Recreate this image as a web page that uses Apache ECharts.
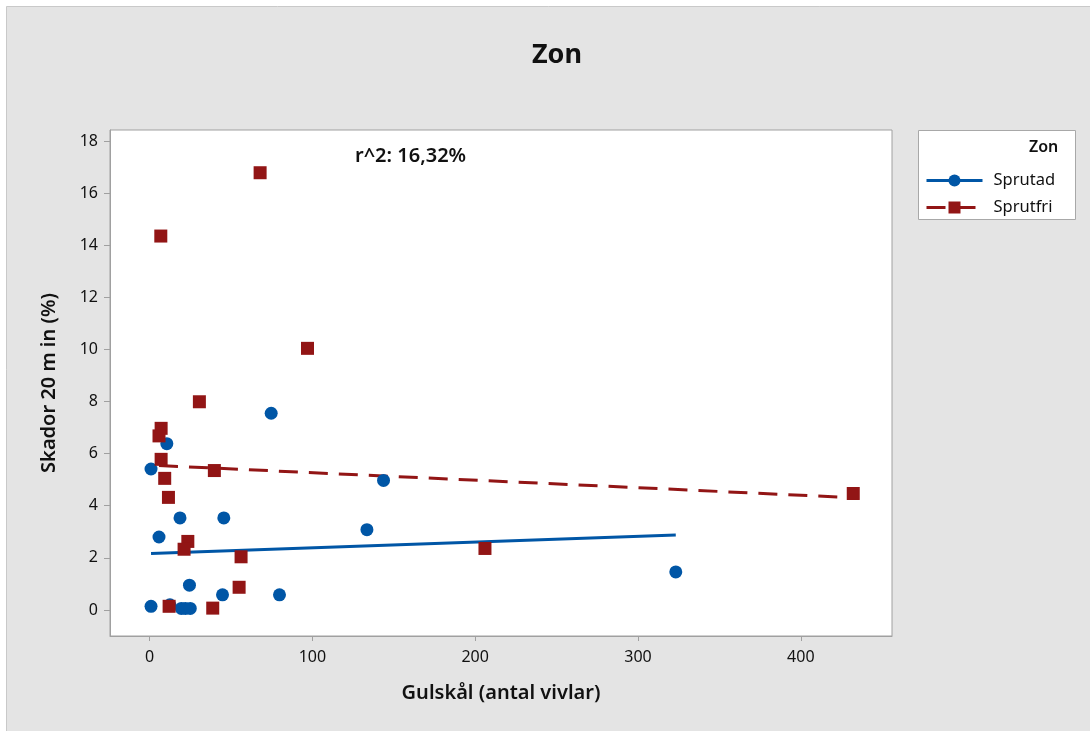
<!DOCTYPE html>
<html>
<head>
<meta charset="utf-8">
<script src="https://cdn.jsdelivr.net/npm/echarts@6/dist/echarts.min.js"></script>
<style>
  html, body { margin: 0; padding: 0; background: #ffffff; }
  #chart { width: 1090px; height: 731px; }
</style>
</head>
<body>
<div id="chart"></div>
<script>
// ---- Data ----
const seriesNames = ['Sprutad', 'Sprutfri'];

// Sprutad (blue circles)
const sprutadX = [74.7, 10.6, 0.9, 143.7, 18.7, 45.6, 5.8, 133.5, 24.5, 44.8, 79.8, 0.9, 12.5, 19.5, 22.0, 25.0, 323.2];
const sprutadY = [7.55, 6.38, 5.41, 4.97, 3.53, 3.53, 2.80, 3.08, 0.95, 0.58, 0.58, 0.14, 0.20, 0.06, 0.06, 0.06, 1.46];

// Sprutfri (red squares)
const sprutfriX = [6.9, 67.9, 97.0, 30.6, 7.1, 5.8, 7.1, 39.8, 9.3, 11.6, 23.5, 21.2, 56.2, 55.0, 12.0, 38.8, 206.0, 432.2];
const sprutfriY = [14.35, 16.78, 10.04, 7.99, 6.97, 6.68, 5.78, 5.35, 5.05, 4.32, 2.63, 2.33, 2.04, 0.87, 0.14, 0.07, 2.36, 4.47];

// Fitted regression lines (endpoints)
const sprutadFitX = [0.9, 323.2];
const sprutadFitY = [2.17, 2.88];
const sprutfriFitX = [5.8, 432.2];
const sprutfriFitY = [5.54, 4.31];

const xTicks = [0, 100, 200, 300, 400];
const yTicks = [0, 2, 4, 6, 8, 10, 12, 14, 16, 18];

const titleText = 'Zon';
const xAxisName = 'Gulskål (antal vivlar)';
const yAxisName = 'Skador 20 m in (%)';
const r2Text = 'r^2: 16,32%';

// ---- Build ----
const zip = (xs, ys) => xs.map((x, i) => [x, ys[i]]);
const BLUE = '#0056a6';
const RED = '#921515';
const FONT = '"Noto Sans", "Open Sans", sans-serif';
const TXT = '#111111';

const chart = echarts.init(document.getElementById('chart'), null, { renderer: 'canvas' });

chart.setOption({
  backgroundColor: '#ffffff',
  animation: false,
  textStyle: { fontFamily: FONT },
  graphic: [
    {
      type: 'rect', z: -10, silent: true,
      shape: { x: 6.5, y: 6.5, width: 1090, height: 730 },
      style: { fill: '#e4e4e4', stroke: '#c9c9c9', lineWidth: 1 }
    },
    {
      type: 'rect', z: -5, silent: true,
      shape: { x: 918.5, y: 130.5, width: 157, height: 89 },
      style: { fill: '#ffffff', stroke: '#a8a8a8', lineWidth: 1 }
    },
    {
      type: 'text', z: 10, silent: true,
      left: 1029, top: 139,
      style: { text: 'Zon', font: '600 16px ' + FONT, fill: TXT }
    },
    {
      type: 'text', z: 10, silent: true,
      left: 355, top: 146,
      style: { text: r2Text, font: '600 20px ' + FONT, fill: TXT }
    }
  ],
  title: {
    text: titleText,
    left: 552, textAlign: 'center',
    top: 37,
    textStyle: { fontFamily: FONT, fontSize: 27, fontWeight: 'bold', color: TXT }
  },
  legend: {
    orient: 'vertical',
    left: 920, top: 167,
    itemWidth: 56, itemHeight: 15, itemGap: 10,
    data: seriesNames,
    lineStyle: { width: 3 },
    textStyle: { fontFamily: FONT, fontSize: 16.5, color: TXT, padding: [0, 0, 0, 6] }
  },
  grid: { left: 110, right: 198, top: 130, bottom: 95, containLabel: false,
          show: true, backgroundColor: '#ffffff', borderColor: '#a0a0a0', borderWidth: 1 },
  xAxis: {
    type: 'value',
    min: -24.3, max: 456,
    name: xAxisName,
    nameLocation: 'middle', nameGap: 47,
    nameTextStyle: { fontFamily: FONT, fontSize: 20, fontWeight: 600, color: TXT },
    axisLine: { show: true, onZero: false, lineStyle: { color: '#a0a0a0', width: 1 } },
    axisTick: { show: true, customValues: xTicks, length: 5, lineStyle: { color: '#a0a0a0' } },
    axisLabel: { customValues: xTicks, fontFamily: FONT, fontSize: 16, color: TXT, margin: 13 },
    splitLine: { show: false }
  },
  yAxis: {
    type: 'value',
    min: -1, max: 18.42,
    name: yAxisName,
    nameLocation: 'middle', nameGap: 51, nameRotate: 90,
    nameTextStyle: { fontFamily: FONT, fontSize: 20, fontWeight: 600, color: TXT },
    axisLine: { show: true, onZero: false, lineStyle: { color: '#a0a0a0', width: 1 } },
    axisTick: { show: true, customValues: yTicks, length: 6, lineStyle: { color: '#a0a0a0' } },
    axisLabel: { customValues: yTicks, fontFamily: FONT, fontSize: 16, color: TXT, margin: 12 },
    splitLine: { show: false }
  },
  series: [
    {
      name: 'Sprutad', type: 'line',
      data: zip(sprutadFitX, sprutadFitY),
      symbol: 'circle', showSymbol: false,
      itemStyle: { color: BLUE },
      lineStyle: { color: BLUE, width: 3, type: 'solid' },
      z: 3, silent: true
    },
    {
      name: 'Sprutfri', type: 'line',
      data: zip(sprutfriFitX, sprutfriFitY),
      symbol: 'rect', showSymbol: false,
      itemStyle: { color: RED },
      lineStyle: { color: RED, width: 3, type: [19, 11] },
      z: 3, silent: true
    },
    {
      name: 'Sprutad', type: 'scatter',
      data: zip(sprutadX, sprutadY),
      symbol: 'circle', symbolSize: 13,
      itemStyle: { color: BLUE, opacity: 1 },
      z: 4
    },
    {
      name: 'Sprutfri', type: 'scatter',
      data: zip(sprutfriX, sprutfriY),
      symbol: 'rect', symbolSize: 13,
      itemStyle: { color: RED, opacity: 1 },
      z: 5
    }
  ]
});
</script>
</body>
</html>
